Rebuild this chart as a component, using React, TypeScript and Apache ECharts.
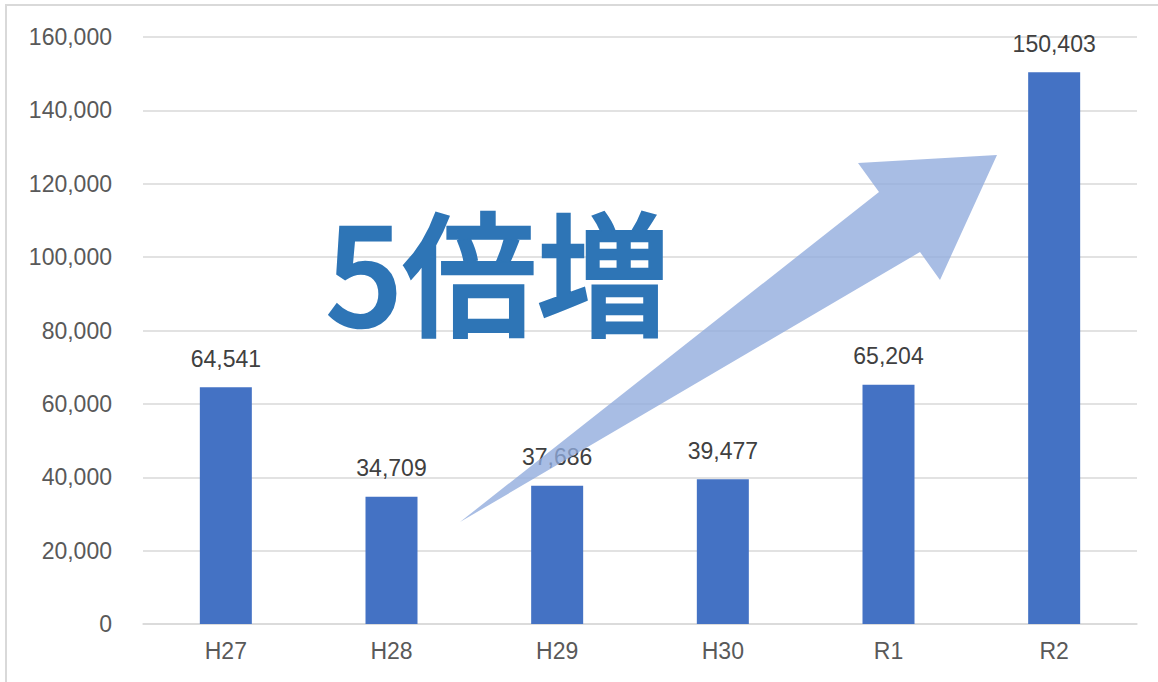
import React, { useEffect, useRef } from "react";
import * as echarts from "echarts";

const categories = ["H27", "H28", "H29", "H30", "R1", "R2"];
const values = [64541, 34709, 37686, 39477, 65204, 150403];
const yTicks = [0, 20000, 40000, 60000, 80000, 100000, 120000, 140000, 160000];
const headline = "5倍増";

export default function App() {
  const ref = useRef<HTMLDivElement>(null);
  useEffect(() => {
    if (!ref.current) return;
    const chart = echarts.init(ref.current, undefined, { renderer: "svg" });
    const fmt = (v: number) => v.toLocaleString("en-US");
    const font = "Liberation Sans, Arial, sans-serif";
    chart.setOption({
      animation: false,
      backgroundColor: "#ffffff",
      grid: { left: 143, right: 21, top: 37, bottom: 58 },
      xAxis: {
        type: "category",
        data: categories,
        axisLine: { show: true, lineStyle: { color: "#d9d9d9", width: 1.5 } },
        axisTick: { show: false },
        axisLabel: { color: "#595959", fontSize: 23, margin: 15, fontFamily: font },
      },
      yAxis: {
        type: "value",
        min: yTicks[0],
        max: yTicks[yTicks.length - 1],
        interval: 20000,
        axisLine: { show: false },
        axisTick: { show: false },
        splitLine: { lineStyle: { color: "#d9d9d9", width: 1.5 } },
        axisLabel: {
          color: "#595959",
          fontSize: 23,
          margin: 31,
          fontFamily: font,
          formatter: (v: number) => fmt(v),
        },
      },
      series: [
        {
          type: "bar",
          data: values,
          barWidth: 52,
          itemStyle: { color: "#4472C4" },
          label: {
            show: true,
            position: "top",
            distance: 17,
            color: "#404040",
            fontSize: 23,
            fontFamily: font,
            formatter: (p: any) => fmt(p.value),
          },
        },
      ],
      graphic: [
        {
          type: "rect",
          shape: { x: 6, y: 5, width: 1200, height: 700 },
          style: { fill: "none", stroke: "#d9d9d9", lineWidth: 2 },
          silent: true,
          z: 100,
        },
        {
          type: "polygon",
          shape: {
            points: [
              [460, 522],
              [879, 192],
              [858, 163],
              [997, 155],
              [940, 280],
              [920, 252],
            ],
          },
          style: { fill: "rgba(143,170,220,0.78)" },
          z: 100,
        },
        {
          type: "text",
          x: 326,
          y: 335,
          style: {
            text: headline,
            fill: "#2E75B6",
            stroke: "#2E75B6",
            lineWidth: 2.5,
            font: "500 134px 'Noto Sans CJK JP', sans-serif",
            verticalAlign: "bottom",
          },
          z: 101,
        },
      ],
    });
    return () => chart.dispose();
  }, []);
  return <div ref={ref} style={{ position: "absolute", left: 0, top: 0, width: 1158, height: 682 }} />;
}
